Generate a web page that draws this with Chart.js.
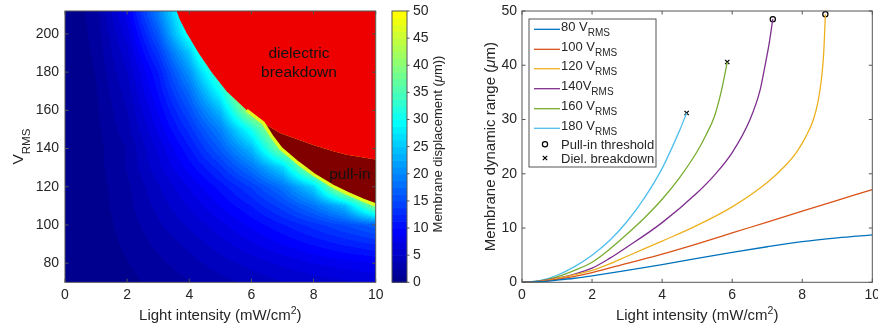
<!DOCTYPE html>
<html>
<head>
<meta charset="utf-8">
<script src="https://cdn.jsdelivr.net/npm/chart.js@4.4.1/dist/chart.umd.min.js"></script>
<style>
  html, body { margin: 0; padding: 0; background: #fff; overflow: hidden; }
  canvas { position: absolute; top: 0; }
</style>
</head>
<body>
<canvas id="heatChart" width="440" height="328" style="left:0"></canvas>
<canvas id="barChart" width="72" height="328" style="left:376px"></canvas>
<canvas id="rangeChart" width="438" height="328" style="left:440px"></canvas>
<script>
// ---- left panel: displacement map (V_RMS vs light intensity) ----
const heatI = [0, 1, 2, 3, 4, 5, 6, 7, 8, 9, 10];
const heatV = [70, 80, 90, 100, 110, 120, 130, 140, 150, 160, 170, 180, 190, 200, 210];
// membrane displacement (um), one row per V_RMS, one column per light intensity
const heatD = [
    [0, 0.30, 0.9, 1.6, 2.4, 3.3, 4.1, 4.9, 5.5, 6.0, 6.4],
    [0, 0.40, 1.2, 2.2, 3.25, 4.4, 5.5, 6.55, 7.5, 8.2, 8.75],
    [0, 0.47, 1.5, 2.8, 4.1, 5.7, 7.3, 8.8, 10.2, 11.5, 12.6],
    [0, 0.55, 1.8, 3.5, 5.2, 7.1, 9.1, 11.1, 13.1, 15.1, 17.1],
    [0, 0.62, 2.05, 4.2, 6.4, 8.8, 11.3, 14.5, 18.4, 24, 40],
    [0, 0.70, 2.2, 4.8, 7.6, 10.5, 13.9, 18.4, 26, 47, 50],
    [0, 0.75, 2.6, 5.9, 9.3, 13.2, 18.5, 26, 44, 50, 50],
    [0, 0.75, 2.6, 6.5, 11.0, 16.5, 23.9, 40, 45, 50, 50],
    [0, 0.90, 3.2, 7.8, 13.0, 19.5, 31, 47, 50, 50, 50],
    [0, 1.00, 3.7, 8.9, 15.3, 24.1, 43, 50, 50, 50, 50],
    [0, 1.15, 4.3, 10.2, 17.8, 30, 50, 50, 50, 50, 50],
    [0, 1.30, 5.0, 11.2, 21.0, 36, 50, 50, 50, 50, 50],
    [0, 1.50, 5.8, 13.5, 25, 45, 50, 50, 50, 50, 50],
    [0, 1.70, 6.8, 16.2, 31.5, 50, 50, 50, 50, 50, 50],
    [0, 1.90, 8.0, 19.0, 34, 50, 50, 50, 50, 50, 50]
];
// region boundaries
const breakdownI = [3.59, 3.70, 3.92, 4.30, 4.72, 5.20, 5.85, 6.38, 6.92, 7.56, 7.99, 8.64, 9.07, 10];
const breakdownV = [212, 207.3, 200.4, 190, 180, 170, 160, 153.4, 148.2, 144.3, 141.8, 138.6, 136.8, 134.3];
const pullInI = [6.38, 6.65, 6.95, 7.5, 8.0, 8.6, 9.1, 9.6, 10];
const pullInV = [153.4, 146.5, 140, 132.5, 126.4, 120.5, 116.5, 113, 110.5];
const heatXTicks = [0, 2, 4, 6, 8, 10];
const heatYTicks = [80, 100, 120, 140, 160, 180, 200];
const barTicks = [0, 5, 10, 15, 20, 25, 30, 35, 40, 45, 50];

// ---- right panel: dynamic range curves ----
const light80 = [0, 0.5, 1, 1.5, 2, 3, 4, 5, 6, 7, 8, 9, 10];
const disp80 = [0, 0.1, 0.4, 0.75, 1.2, 2.2, 3.25, 4.4, 5.5, 6.55, 7.5, 8.2, 8.75];
const light100 = [0, 0.5, 1, 1.5, 2, 3, 4, 5, 6, 7, 8, 9, 10];
const disp100 = [0, 0.12, 0.55, 1.1, 1.8, 3.5, 5.2, 7.1, 9.1, 11.1, 13.1, 15.1, 17.1];
const light120 = [0, 0.5, 1, 1.5, 2, 2.5, 3, 3.5, 4, 5, 6, 7, 7.5, 7.84, 8.1, 8.32, 8.45, 8.54, 8.6, 8.63, 8.66];
const disp120 = [0, 0.15, 0.7, 1.4, 2.2, 3.4, 4.8, 6.2, 7.6, 10.5, 13.9, 18.4, 21.4, 24.0, 26.8, 30, 33.3, 37, 41, 44.5, 49.4];
const light140 = [0, 0.5, 1, 1.5, 2, 2.5, 3, 4, 5, 5.5, 6, 6.51, 6.8, 6.94, 7.05, 7.16];
const disp140 = [0, 0.2, 0.75, 1.5, 2.6, 4.4, 6.5, 11.0, 16.5, 19.8, 23.9, 30, 35.5, 40, 43.8, 48.5];
const light160 = [0, 0.5, 1, 1.5, 2, 2.5, 3, 3.5, 4, 4.5, 5, 5.25, 5.5, 5.7, 5.86];
const disp160 = [0, 0.25, 1.0, 2.2, 3.7, 6.1, 8.9, 11.9, 15.3, 19.3, 24.1, 27.1, 30.7, 35.5, 40.6];
const light180 = [0, 0.5, 1, 1.5, 2, 2.5, 3, 3.5, 4, 4.5, 4.7];
const disp180 = [0, 0.3, 1.3, 2.9, 5.0, 7.7, 11.2, 15.6, 21.0, 28.0, 31.2];
const pullInLight = [7.16, 8.66];
const pullInDisp = [48.5, 49.4];
const bdLight = [4.7, 5.86];
const bdDisp = [31.2, 40.6];
const voltageLabels = ['80 V', '100 V', '120 V', '140V', '160 V', '180 V'];
const rangeXTicks = [0, 2, 4, 6, 8, 10];
const rangeYTicks = [0, 10, 20, 30, 40, 50];

const FONT = "'Liberation Sans', Arial, Helvetica, sans-serif";
const INK = '#262626';
const FRAME = '#555555';
const CLIM_MAX = 80;   // colour limits of the map
const N_COLORS = 64;   // jet(64)

Chart.defaults.font.family = FONT;
Chart.defaults.color = INK;

// matlab jet(64)
function jetRow(k) {
    const u = j => (j < 1 || j > 47) ? 0 : j <= 16 ? j / 16 : j <= 31 ? 1 : (48 - j) / 16;
    return [u(k - 24), u(k - 8), u(k + 8)].map(c => Math.round(c * 255));
}
const palette = [];
for (let k = 1; k <= N_COLORS; k++) palette.push(jetRow(k));

function colorFor(d) {
    const idx = Math.floor(Math.min(d, 50) / CLIM_MAX * N_COLORS);
    return palette[Math.max(0, Math.min(N_COLORS - 1, idx))];
}
const rgb = c => `rgb(${c[0]},${c[1]},${c[2]})`;

function locate(arr, v) {
    if (v <= arr[0]) return [0, 0];
    if (v >= arr[arr.length - 1]) return [arr.length - 2, 1];
    let i = 0;
    while (arr[i + 1] < v) i++;
    return [i, (v - arr[i]) / (arr[i + 1] - arr[i])];
}

function displacementAt(I, V) {
    const [c, tx] = locate(heatI, I);
    const [r, ty] = locate(heatV, V);
    const a = heatD[r][c] * (1 - tx) + heatD[r][c + 1] * tx;
    const b = heatD[r + 1][c] * (1 - tx) + heatD[r + 1][c + 1] * tx;
    return a * (1 - ty) + b * ty;
}

// text with sub/superscripts, parts = [{t, size, dy, italic}]
function drawRich(ctx, parts, x, y, angle, align) {
    ctx.save();
    ctx.translate(x, y);
    ctx.rotate(angle || 0);
    ctx.fillStyle = INK;
    ctx.textBaseline = 'alphabetic';
    ctx.textAlign = 'left';
    const fontOf = p => `${p.italic ? 'italic ' : ''}${p.size}px ${FONT}`;
    let w = 0;
    parts.forEach(p => { ctx.font = fontOf(p); p.w = ctx.measureText(p.t).width; w += p.w; });
    let cx = align === 'left' ? 0 : -w / 2;
    parts.forEach(p => { ctx.font = fontOf(p); ctx.fillText(p.t, cx, p.dy || 0); cx += p.w; });
    ctx.restore();
}

function drawFrame(chart) {
    const {ctx, chartArea: a, scales: {x, y}} = chart;
    const TL = 3.5;
    ctx.save();
    ctx.strokeStyle = FRAME;
    ctx.lineWidth = 1;
    ctx.strokeRect(a.left, a.top, a.right - a.left, a.bottom - a.top);
    ctx.beginPath();
    x.ticks.forEach(t => {
        const px = x.getPixelForValue(t.value);
        ctx.moveTo(px, a.bottom); ctx.lineTo(px, a.bottom - TL);
        ctx.moveTo(px, a.top); ctx.lineTo(px, a.top + TL);
    });
    y.ticks.forEach(t => {
        const py = y.getPixelForValue(t.value);
        ctx.moveTo(a.left, py); ctx.lineTo(a.left + TL, py);
        ctx.moveTo(a.right, py); ctx.lineTo(a.right - TL, py);
    });
    ctx.stroke();
    ctx.restore();
}

const xTitle = [
    {t: 'Light intensity (mW/cm', size: 15},
    {t: '2', size: 10.5, dy: -6.5},
    {t: ')', size: 15}
];

function axisX(ticks, height) {
    return {
        type: 'linear', min: 0, max: 10,
        grid: {display: false, drawTicks: false},
        border: {display: false},
        ticks: {font: {size: 14}, color: INK, padding: 4, maxRotation: 0, autoSkip: false},
        afterBuildTicks: s => { s.ticks = ticks.map(v => ({value: v})); },
        afterFit: s => { s.height = height; s.paddingLeft = 0; s.paddingRight = 0; }
    };
}

function axisY(min, max, ticks, width, pad) {
    return {
        type: 'linear', min: min, max: max,
        grid: {display: false, drawTicks: false},
        border: {display: false},
        ticks: {font: {size: 14}, color: INK, padding: pad, autoSkip: false},
        afterBuildTicks: s => { s.ticks = ticks.map(v => ({value: v})); },
        afterFit: s => { s.width = width; s.paddingTop = 0; s.paddingBottom = 0; }
    };
}

// ---------------- left chart ----------------
const heatmapPlugin = {
    id: 'heatmap',
    beforeDatasetsDraw(chart) {
        const {ctx, chartArea: a, scales: {x, y}} = chart;
        const w = Math.ceil(a.right - a.left), h = Math.ceil(a.bottom - a.top);
        const off = document.createElement('canvas');
        off.width = w; off.height = h;
        const octx = off.getContext('2d');
        const img = octx.createImageData(w, h);
        for (let py = 0; py < h; py++) {
            const V = y.getValueForPixel(a.top + py + 0.5);
            for (let px = 0; px < w; px++) {
                const I = x.getValueForPixel(a.left + px + 0.5);
                const c = colorFor(displacementAt(I, V));
                const k = (py * w + px) * 4;
                img.data[k] = c[0]; img.data[k + 1] = c[1]; img.data[k + 2] = c[2]; img.data[k + 3] = 255;
            }
        }
        octx.putImageData(img, 0, 0);
        ctx.save();
        ctx.beginPath();
        ctx.rect(a.left, a.top, a.right - a.left, a.bottom - a.top);
        ctx.clip();
        ctx.drawImage(off, a.left, a.top);
        ctx.restore();
    },
    afterDatasetsDraw(chart) {
        const {ctx, scales: {x, y}} = chart;
        ctx.save();
        ctx.fillStyle = '#111';
        ctx.font = `15.5px ${FONT}`;
        ctx.textAlign = 'center';
        ctx.textBaseline = 'alphabetic';
        ctx.fillText('dielectric', x.getPixelForValue(7.53), y.getPixelForValue(187.6));
        ctx.fillText('breakdown', x.getPixelForValue(7.53), y.getPixelForValue(177.7));
        ctx.fillText('pull-in', x.getPixelForValue(9.17), y.getPixelForValue(124.2));
        ctx.restore();
        drawFrame(chart);
    },
    afterDraw(chart) {
        const {ctx, chartArea: a} = chart;
        drawRich(ctx, xTitle, (a.left + a.right) / 2, 320);
        drawRich(ctx, [{t: 'V', size: 15.5}, {t: 'RMS', size: 11.5, dy: 6.7}],
            23.3, (a.top + a.bottom) / 2, -Math.PI / 2);
    }
};

const breakdownPts = breakdownI.map((x, i) => ({x: x, y: breakdownV[i]}));
const junction = breakdownI.indexOf(pullInI[0]);
const pullInEdge = pullInI.map((x, i) => ({x: x, y: pullInV[i]}));
const pullInPts = pullInEdge.concat(breakdownPts.slice(junction).reverse());
// thin bright rim just below the pull-in boundary, starting under the red area
const rimPts = [breakdownPts[junction - 1]].concat(pullInEdge);

new Chart(document.getElementById('heatChart'), {
    type: 'scatter',
    data: {
        datasets: [
            {
                label: 'pull-in rim',
                data: rimPts,
                showLine: true, fill: false,
                borderColor: rgb(colorFor(47)), borderWidth: 3.2,
                pointRadius: 0, tension: 0
            },
            {
                label: 'dielectric breakdown',
                data: breakdownPts,
                showLine: true, fill: 'end',
                backgroundColor: '#ef0000', borderColor: 'rgba(0,0,0,0)',
                borderWidth: 0, pointRadius: 0, tension: 0
            },
            {
                label: 'pull-in',
                data: pullInPts,
                showLine: true, fill: 'shape',
                backgroundColor: '#800000', borderColor: 'rgba(0,0,0,0)',
                borderWidth: 0, pointRadius: 0, tension: 0
            }
        ]
    },
    options: {
        responsive: false,
        animation: false,
        events: [],
        layout: {padding: {left: 0, top: 11, right: 64.3, bottom: 0}},
        plugins: {legend: {display: false}, tooltip: {enabled: false}},
        scales: {
            x: axisX(heatXTicks, 45.7),
            y: axisY(70, 212, heatYTicks, 65, 6)
        }
    },
    plugins: [heatmapPlugin]
});

// ---------------- colour bar ----------------
const colorbarPlugin = {
    id: 'colorbar',
    afterDraw(chart) {
        const {ctx, chartArea: a, scales: {y}} = chart;
        const step = CLIM_MAX / N_COLORS;
        ctx.save();
        for (let i = 0; i * step < 50; i++) {
            const top = y.getPixelForValue(Math.min(50, (i + 1) * step));
            const bot = y.getPixelForValue(i * step);
            ctx.fillStyle = rgb(palette[i]);
            ctx.fillRect(a.left, top, a.right - a.left, bot - top + 0.6);
        }
        ctx.strokeStyle = FRAME;
        ctx.lineWidth = 1;
        ctx.strokeRect(a.left, a.top, a.right - a.left, a.bottom - a.top);
        ctx.beginPath();
        y.ticks.forEach(t => {
            const py = y.getPixelForValue(t.value);
            ctx.moveTo(a.right, py); ctx.lineTo(a.right + 2.5, py);
        });
        ctx.stroke();
        ctx.restore();
        drawRich(ctx, [
            {t: 'Membrane displacement (', size: 13},
            {t: 'μ', size: 13, italic: true},
            {t: 'm))', size: 13}
        ], 65.5, 144, -Math.PI / 2);
    }
};

new Chart(document.getElementById('barChart'), {
    type: 'scatter',
    data: {datasets: []},
    options: {
        responsive: false,
        animation: false,
        events: [],
        layout: {padding: {left: 16, top: 11, right: 0, bottom: 45.7}},
        plugins: {legend: {display: false}, tooltip: {enabled: false}},
        scales: {
            x: {display: false, min: 0, max: 1},
            y: {
                position: 'right', min: 0, max: 50,
                grid: {display: false, drawTicks: false},
                border: {display: false},
                ticks: {font: {size: 14}, color: INK, padding: 6, autoSkip: false},
                afterBuildTicks: s => { s.ticks = barTicks.map(v => ({value: v})); },
                afterFit: s => { s.width = 41; s.paddingTop = 0; s.paddingBottom = 0; }
            }
        }
    },
    plugins: [colorbarPlugin]
});

// ---------------- right chart ----------------
const curveColors = ['#0072BD', '#D95319', '#EDB120', '#7E2F8E', '#77AC30', '#4DBEEE'];
const curves = [
    [light80, disp80], [light100, disp100], [light120, disp120],
    [light140, disp140], [light160, disp160], [light180, disp180]
];

const legendPlugin = {
    id: 'rangeLegend',
    afterDatasetsDraw(chart) {
        drawFrame(chart);
        const {ctx, chartArea: a} = chart;
        const bx = a.left + 7, by = a.top + 8, bw = 127, bh = 148;
        ctx.save();
        ctx.fillStyle = '#fff';
        ctx.fillRect(bx, by, bw, bh);
        ctx.strokeStyle = FRAME;
        ctx.lineWidth = 1;
        ctx.strokeRect(bx, by, bw, bh);
        const rows = [10.3, 30.3, 49.7, 69.7, 89.7, 109.3];
        chart.data.datasets.slice(0, 6).forEach((ds, i) => {
            const ry = by + rows[i];
            ctx.strokeStyle = ds.borderColor;
            ctx.lineWidth = 1.3;
            ctx.beginPath();
            ctx.moveTo(bx + 5, ry); ctx.lineTo(bx + 31, ry);
            ctx.stroke();
            const [main, sub] = ds.label.split('_');
            drawRich(ctx, [{t: main, size: 13, dy: 1.3}, {t: sub, size: 10, dy: 6.7}], bx + 32, ry, 0, 'left');
        });
        // marker entries
        const mx = bx + 16;
        let ry = by + 125.3;
        ctx.strokeStyle = '#000';
        ctx.lineWidth = 1.2;
        ctx.beginPath();
        ctx.arc(mx, ry, 2.6, 0, Math.PI * 2);
        ctx.stroke();
        drawRich(ctx, [{t: chart.data.datasets[6].label, size: 13, dy: 4.7}], bx + 32, ry, 0, 'left');
        ry = by + 139;
        ctx.beginPath();
        ctx.moveTo(mx - 2.2, ry - 2.2); ctx.lineTo(mx + 2.2, ry + 2.2);
        ctx.moveTo(mx - 2.2, ry + 2.2); ctx.lineTo(mx + 2.2, ry - 2.2);
        ctx.stroke();
        drawRich(ctx, [{t: chart.data.datasets[7].label, size: 13, dy: 4.7}], bx + 32, ry, 0, 'left');
        ctx.restore();
    },
    afterDraw(chart) {
        const {ctx, chartArea: a} = chart;
        drawRich(ctx, xTitle, (a.left + a.right) / 2, 320);
        drawRich(ctx, [
            {t: 'Membrane dynamic range (', size: 15},
            {t: 'μ', size: 15, italic: true},
            {t: 'm)', size: 15}
        ], 55, (a.top + a.bottom) / 2, -Math.PI / 2);
    }
};

new Chart(document.getElementById('rangeChart'), {
    type: 'scatter',
    data: {
        datasets: curves.map(([xs, ys], i) => ({
            label: voltageLabels[i] + '_RMS',
            data: xs.map((x, j) => ({x: x, y: ys[j]})),
            showLine: true,
            borderColor: curveColors[i],
            borderWidth: 1.3,
            pointRadius: 0,
            cubicInterpolationMode: 'monotone',
            fill: false
        })).concat([
            {
                label: 'Pull-in threshold',
                data: pullInLight.map((x, j) => ({x: x, y: pullInDisp[j]})),
                showLine: false, pointStyle: 'circle', pointRadius: 2.6,
                pointBorderWidth: 1.2, borderColor: '#000', backgroundColor: 'rgba(0,0,0,0)', clip: false
            },
            {
                label: 'Diel. breakdown',
                data: bdLight.map((x, j) => ({x: x, y: bdDisp[j]})),
                showLine: false, pointStyle: 'crossRot', pointRadius: 3,
                pointBorderWidth: 1.3, borderColor: '#000', backgroundColor: '#000', clip: false
            }
        ])
    },
    options: {
        responsive: false,
        animation: false,
        events: [],
        layout: {padding: {left: 0, top: 11, right: 5.7, bottom: 0}},
        plugins: {legend: {display: false}, tooltip: {enabled: false}},
        scales: {
            x: axisX(rangeXTicks, 45.7),
            y: axisY(0, 50, rangeYTicks, 82, 5)
        }
    },
    plugins: [legendPlugin]
});
</script>
</body>
</html>
